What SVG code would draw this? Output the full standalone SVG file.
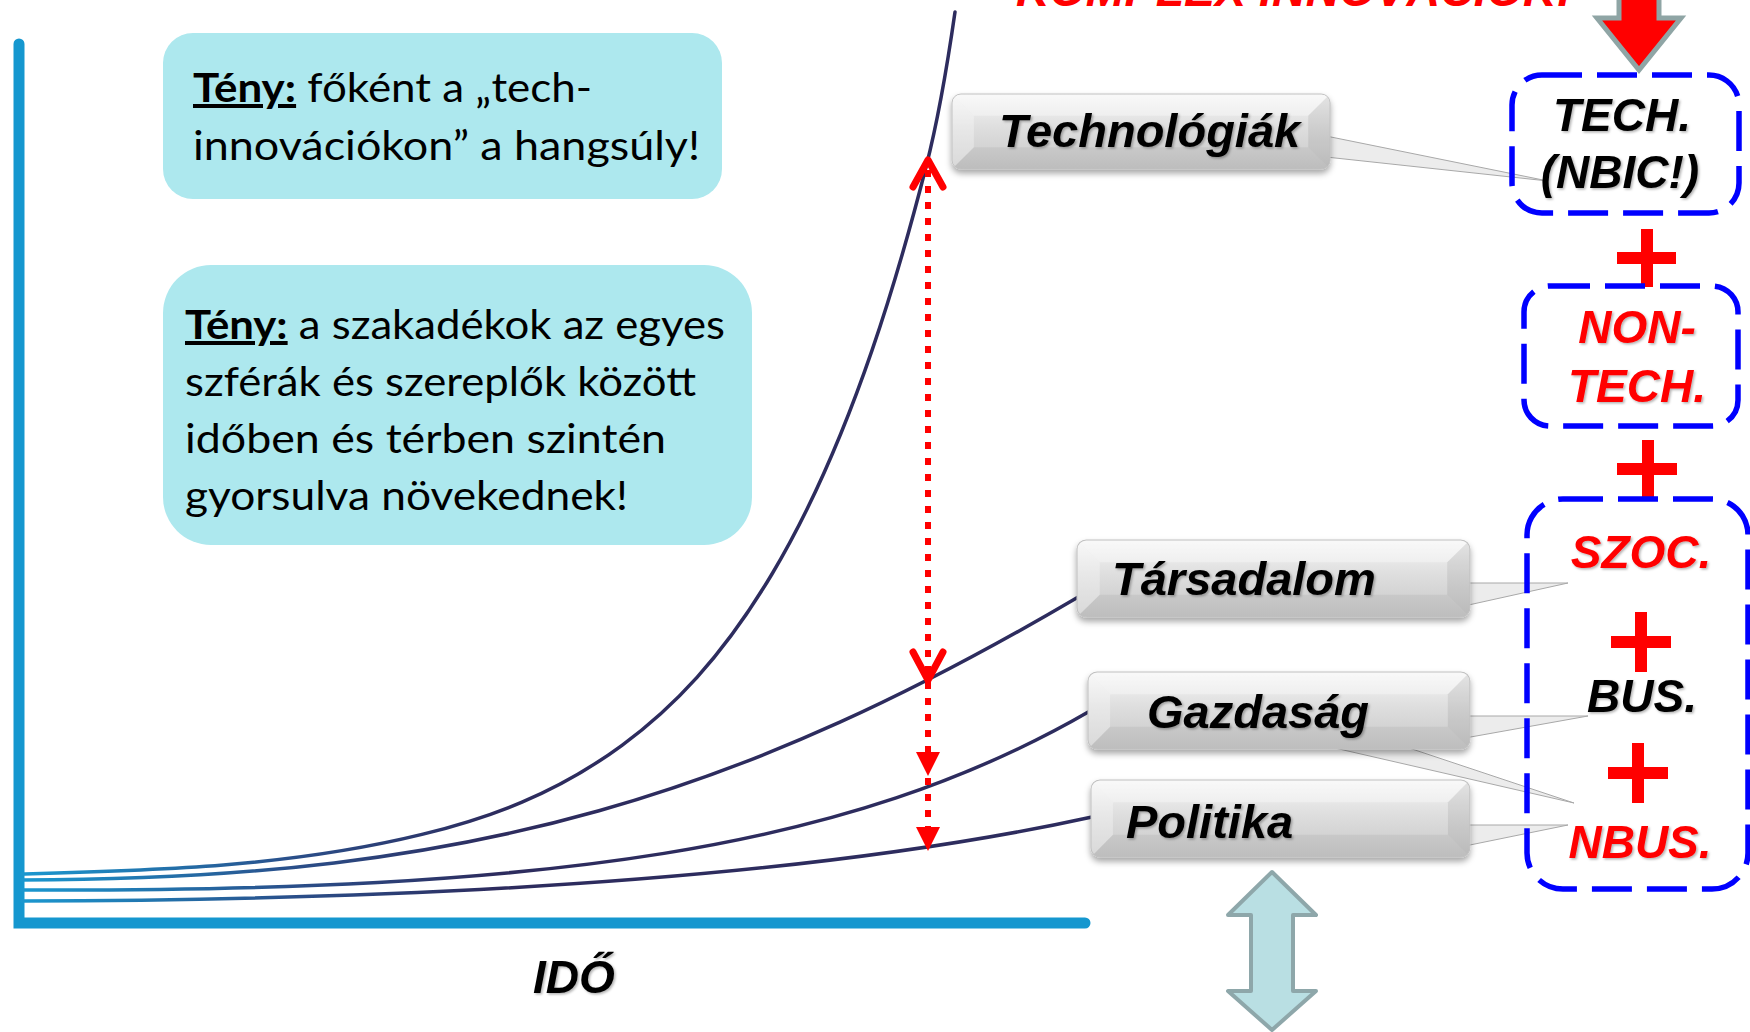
<svg xmlns="http://www.w3.org/2000/svg" xmlns:xlink="http://www.w3.org/1999/xlink" width="1750" height="1032" viewBox="0 0 1750 1032">
<style>
.lbl{font-family:"Liberation Sans",Arial,sans-serif;font-weight:bold;font-style:italic;font-size:47px;fill:#000}
.bx{font-family:"Liberation Sans",Arial,sans-serif;font-weight:bold;font-style:italic;font-size:46px;text-anchor:middle}
.red{fill:#ff0000}
.blk{fill:#000}
.note{font-family:Lato,"Noto Sans",sans-serif;font-size:40px;fill:#000}
.note .b{font-weight:bold;text-decoration:underline}
.dash{fill:none;stroke:#0000ff;stroke-width:5.5;stroke-dasharray:40 15}
.plus{fill:#ff0000}
.curve{fill:none;stroke:url(#cg);stroke-width:3.5;stroke-linecap:round;stroke-linejoin:round}
.wedge{fill:#ececec;stroke:#a8a8a8;stroke-width:1}
.axis{fill:none;stroke:#1597cf;stroke-width:11;stroke-linecap:round}
.dot{fill:none;stroke:#ff0000;stroke-width:6;stroke-dasharray:7 9}
.chev{fill:none;stroke:#ff0000;stroke-width:7;stroke-linecap:round;stroke-linejoin:round}
.tri{fill:#ff0000}
.cyan{fill:#ade8ee}
</style>
<defs>
<linearGradient id="cg" gradientUnits="userSpaceOnUse" x1="20" y1="0" x2="700" y2="0">
<stop offset="0" stop-color="#1a98d0"/>
<stop offset="0.4" stop-color="#2a4f8a"/>
<stop offset="0.7" stop-color="#2d2c5e"/>
<stop offset="1" stop-color="#2d2c5e"/>
</linearGradient>
<linearGradient id="boxGrad" x1="0" y1="0" x2="0" y2="1">
<stop offset="0" stop-color="#f6f6f6"/>
<stop offset="0.45" stop-color="#dedede"/>
<stop offset="1" stop-color="#c8c8c8"/>
</linearGradient>
<clipPath id="lblClip"><rect width="380" height="76" rx="9"/></clipPath>
<filter id="shadow" x="-10%" y="-20%" width="120%" height="160%">
<feDropShadow dx="0" dy="4" stdDeviation="3" flood-color="#000" flood-opacity="0.35"/>
</filter>
<filter id="tshadow" x="-10%" y="-20%" width="120%" height="150%">
<feDropShadow dx="1.5" dy="1.5" stdDeviation="1" flood-color="#000" flood-opacity="0.3"/>
</filter>
<g id="lblBox">
<g clip-path="url(#lblClip)">
<rect width="380" height="76" rx="9" fill="url(#boxGrad)"/>
<polygon points="0,0 380,0 358,22 22,22" fill="#fff" opacity="0.35"/>
<polygon points="0,0 22,22 22,54 0,76" fill="#fff" opacity="0.3"/>
<polygon points="380,0 358,22 358,54 380,76" fill="#000" opacity="0.07"/>
<polygon points="0,76 22,54 358,54 380,76" fill="#000" opacity="0.05"/>
</g>
<rect width="380" height="76" rx="9" fill="none" stroke="#c0c0c0" stroke-width="1"/>
</g>
</defs>

<rect width="1750" height="1032" fill="#ffffff"/>

<g id="title">
<text x="1016" y="6" class="bx red" style="text-anchor:start" textLength="556" lengthAdjust="spacingAndGlyphs">KOMPLEX INNOVÁCIÓK!</text>
<polygon points="1619,-8 1659,-8 1659,18 1681,18 1639,70 1597,18 1619,18" fill="#ff0000" stroke="#8fa5a5" stroke-width="5"/>
</g>

<g id="axes">
<path class="axis" d="M19,44 L19,923 L1085,923"/>
<text x="533" y="993" class="lbl" style="font-size:46px" filter="url(#tshadow)">IDŐ</text>
</g>

<g id="note1">
<rect class="cyan" x="163" y="33" width="559" height="166" rx="30"/>
<text class="note" x="193" y="102" textLength="399" lengthAdjust="spacingAndGlyphs"><tspan class="b">Tény:</tspan> főként a „tech-</text>
<text class="note" x="193" y="160" textLength="507" lengthAdjust="spacingAndGlyphs">innovációkon” a hangsúly!</text>
</g>

<g id="note2">
<rect class="cyan" x="163" y="265" width="589" height="280" rx="48"/>
<text class="note" x="185" y="339" textLength="540" lengthAdjust="spacingAndGlyphs"><tspan class="b">Tény:</tspan> a szakadékok az egyes</text>
<text class="note" x="185" y="396" textLength="511" lengthAdjust="spacingAndGlyphs">szférák és szereplők között</text>
<text class="note" x="185" y="453" textLength="481" lengthAdjust="spacingAndGlyphs">időben és térben szintén</text>
<text class="note" x="185" y="510" textLength="443" lengthAdjust="spacingAndGlyphs">gyorsulva növekednek!</text>
</g>

<g id="connectors">
<path class="curve" d="M22,874 C155.3,870.4 288.7,867 422,834.4 C488.7,818.1 555.3,794.3 622,745.3 C672,708.6 722,657.9 772,574 C805.3,518.1 838.7,447.2 872,350.4 C890,298.1 908,237.4 926,167 C935.7,129.2 945.3,79.7 955,12"/>
<path class="curve" d="M22,880 C480,880 750,790 1080,596"/>
<path class="curve" d="M22,890 C550,892 850,850 1090,711"/>
<path class="curve" d="M22,901 C500,900 850,870 1092,817"/>
<line class="dot" x1="928" y1="170" x2="928" y2="842"/>
<path class="chev" d="M913,187 L928,160 L943,187"/>
<path class="chev" d="M913,652 L928,680 L943,652"/>
<path class="tri" d="M916,752 L940,752 L928,776 Z"/>
<path class="tri" d="M916,827 L940,827 L928,851 Z"/>
<polygon class="wedge" points="1326,136 1326,157 1548,181"/>
<polygon class="wedge" points="1465,583 1568,583 1464,606"/>
<polygon class="wedge" points="1465,716 1588,716 1465,738"/>
<polygon class="wedge" points="1300,740 1400,745 1574,803"/>
<polygon class="wedge" points="1465,825 1568,825 1465,846"/>
</g>

<g id="technologiak">
<use xlink:href="#lblBox" transform="translate(952,94) scale(0.995,0.987)" filter="url(#shadow)"/>
<text class="lbl" x="999" y="147" filter="url(#tshadow)">Technológiák</text>
</g>
<g id="tarsadalom">
<use xlink:href="#lblBox" transform="translate(1077,540) scale(1.034,1.013)" filter="url(#shadow)"/>
<text class="lbl" x="1112" y="595" filter="url(#tshadow)">Társadalom</text>
</g>
<g id="politika">
<use xlink:href="#lblBox" transform="translate(1091,780) scale(0.997,1.013)" filter="url(#shadow)"/>
<text class="lbl" x="1126" y="838" filter="url(#tshadow)">Politika</text>
</g>
<g id="gazdasag">
<use xlink:href="#lblBox" transform="translate(1088,672) scale(1.005,1.013)" filter="url(#shadow)"/>
<text class="lbl" x="1147" y="728" filter="url(#tshadow)">Gazdaság</text>
</g>

<g id="doubleArrow">
<polygon points="1272,872 1316,915 1293,915 1293,991 1316,991 1272,1030 1228,991 1251,991 1251,915 1228,915" fill="#b9dfe3" stroke="#8ea7aa" stroke-width="4" stroke-linejoin="round"/>
</g>

<g id="tech">
<rect class="dash" x="1512" y="75" width="227" height="138" rx="30"/>
<text class="bx blk" x="1622" y="131" filter="url(#tshadow)">TECH.</text>
<text class="bx blk" x="1620" y="188" filter="url(#tshadow)">(NBIC!)</text>
</g>

<g id="plus1"><path class="plus" d="M1617,252 H1676 V264 H1617 Z M1641,229 H1653 V287 H1641 Z"/></g>

<g id="nontech">
<rect class="dash" x="1524" y="286" width="214" height="140" rx="26"/>
<text class="bx red" x="1637" y="343" filter="url(#tshadow)">NON-</text>
<text class="bx red" x="1637" y="402" filter="url(#tshadow)">TECH.</text>
</g>

<g id="plus2"><path class="plus" d="M1617,463 H1677 V475 H1617 Z M1642,440 H1654 V498 H1642 Z"/></g>

<g id="szocBusNbus">
<rect class="dash" x="1527" y="499" width="221" height="390" rx="36"/>
<text class="bx red" x="1641" y="568" filter="url(#tshadow)">SZOC.</text>
<path class="plus" d="M1611,636 H1671 V648 H1611 Z M1635,612 H1647 V672 H1635 Z"/>
<text class="bx blk" x="1642" y="712" filter="url(#tshadow)">BUS.</text>
<path class="plus" d="M1608,767 H1668 V779 H1608 Z M1632,743 H1644 V803 H1632 Z"/>
<text class="bx red" x="1640" y="858" filter="url(#tshadow)">NBUS.</text>
</g>
</svg>
